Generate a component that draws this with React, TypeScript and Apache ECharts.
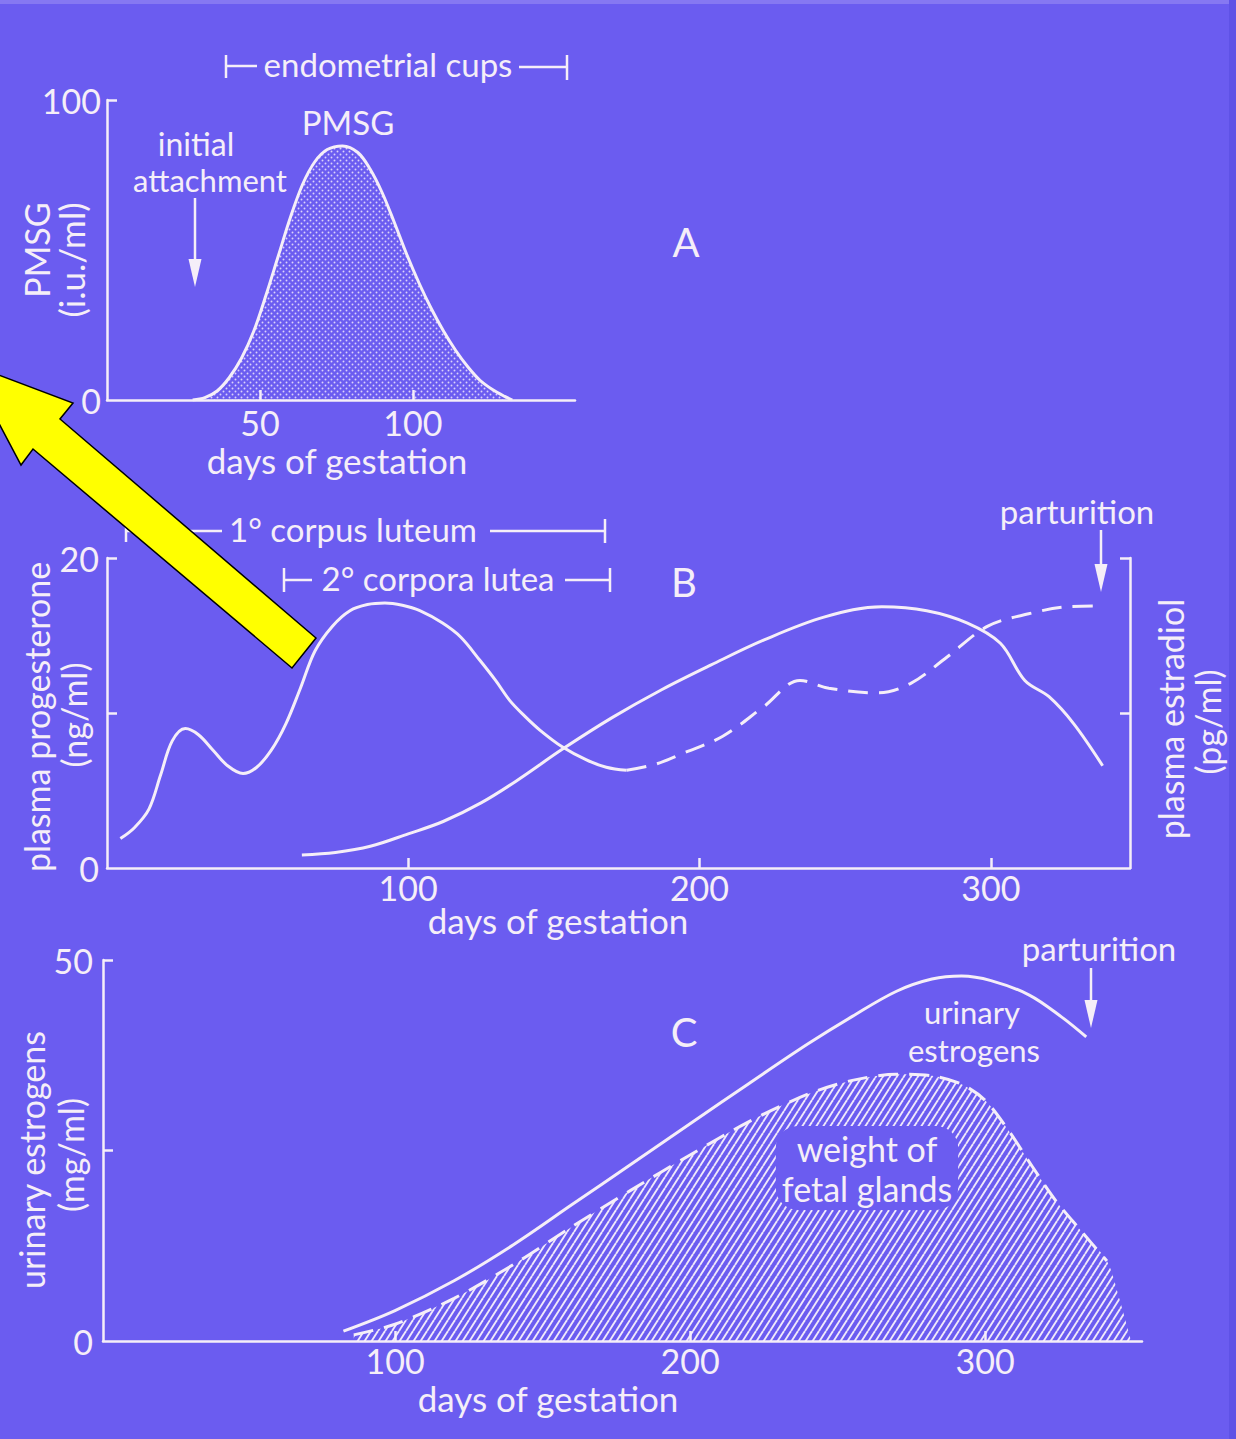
import React, { useEffect, useRef } from "react";
import * as echarts from "echarts";

const BG = "#6b5cf0";
const FG = "#f5eef8";
const FONT = "Lato, 'Open Sans', 'DejaVu Sans', sans-serif";

// ---------- Panel A : PMSG ----------
const pmsgDays = [28, 32, 36, 40, 44, 48, 52, 56, 60, 64, 68, 72, 77, 82, 86, 90, 94, 98, 102, 106, 110, 114, 118, 122, 126, 130, 132.5];
const pmsgValues = [0, 0.8, 3, 7.5, 14, 23, 35, 48, 61, 72, 79.5, 83.5, 84.7, 82.5, 77, 69, 59, 48.5, 39, 30.5, 23, 16.5, 11, 6.5, 3.5, 1.2, 0];
const aXTicks = [50, 100];
const aYTicks = [100];
const aYLabels = [0, 100];

// ---------- Panel B : progesterone / estradiol ----------
const progDays = [1.2, 6, 11, 15, 19, 23.5, 28, 33, 38, 43.3, 48, 53, 58, 63, 68, 74, 80, 86, 92, 98, 104, 111.8, 118, 124.6, 130, 134.9, 140, 145.2, 153, 161.2, 168, 175];
const progValues = [1.9, 2.6, 3.8, 6.0, 8.2, 9.0, 8.6, 7.6, 6.6, 6.1, 6.5, 7.6, 9.3, 11.6, 14.0, 15.6, 16.6, 17.0, 17.1, 16.95, 16.6, 15.8, 14.9, 13.4, 12.1, 10.8, 9.8, 8.9, 7.8, 6.97, 6.5, 6.3];
const progLateDays = [175, 185, 194.3, 208, 222, 234.5, 244.4, 261.2, 272.4, 284.9, 299, 313, 327, 338.4];
const progLateValues = [6.3, 6.7, 7.4, 8.5, 10.4, 12.1, 11.6, 11.3, 11.9, 13.6, 15.6, 16.4, 16.86, 16.9];
const estDays = [63.5, 75, 87, 100, 112, 125, 137, 153, 170, 187, 204, 222, 243, 262.6, 278, 292, 303.3, 311.7, 320, 328.5, 338.4];
const estValues = [0.84, 1.0, 1.4, 2.2, 3.0, 4.2, 5.6, 7.67, 9.7, 11.5, 13.1, 14.7, 16.2, 16.85, 16.6, 15.8, 14.5, 12.1, 11.05, 9.3, 6.6];
const bXTicks = [100, 200, 300];
const bYTicks = [10, 20];
const bYLabels = [0, 20];

// ---------- Panel C : urinary estrogens / fetal glands ----------
const urinDays = [82.5, 100, 120, 140, 160, 180, 200, 220, 240, 255, 270, 282, 292, 302, 315, 326, 334.3];
const urinValues = [1.3, 4.0, 7.9, 12.6, 17.9, 23.2, 28.5, 33.8, 39.0, 42.6, 45.9, 47.5, 47.9, 47.3, 45.4, 42.5, 39.9];
const fetalDays = [86, 100, 120, 140, 160, 180, 200, 220, 240, 255, 270, 282, 292, 300, 308, 316, 324, 332, 341.3];
const fetalValues = [0.8, 2.2, 5.6, 10.0, 15.0, 19.8, 24.4, 28.8, 32.4, 34.2, 35.0, 34.8, 33.7, 31.6, 27.6, 22.9, 18.4, 14.7, 10.5];
const fetalTailDays = [345.4, 349.5];
const fetalTailValues = [5.7, 0];
const cXTicks = [100, 200, 300];
const cYTicks = [25, 50];
const cYLabels = [0, 50];

const zip = (xs: number[], ys: number[]) => xs.map((x, i) => [x, ys[i]]);

function dotPattern() {
  const c = document.createElement("canvas");
  c.width = 6;
  c.height = 6;
  const g = c.getContext("2d")!;
  g.fillStyle = "rgba(248,240,252,0.8)";
  g.beginPath();
  g.arc(1.5, 1.5, 0.95, 0, Math.PI * 2);
  g.fill();
  g.beginPath();
  g.arc(4.5, 4.5, 0.95, 0, Math.PI * 2);
  g.fill();
  return { image: c, repeat: "repeat", imageWidth: 6, imageHeight: 6 } as any;
}

function hatchPattern() {
  const w = 7, h = 11;
  const c = document.createElement("canvas");
  c.width = w;
  c.height = h;
  const g = c.getContext("2d")!;
  g.strokeStyle = "rgba(248,240,252,0.95)";
  g.lineWidth = 1.9;
  const seg = (x1: number, y1: number, x2: number, y2: number) => {
    g.beginPath();
    g.moveTo(x1, y1);
    g.lineTo(x2, y2);
    g.stroke();
  };
  seg(0, h, w, 0);
  seg(-w, h, 0, 0);
  seg(w, h, 2 * w, 0);
  return { image: c, repeat: "repeat", imageWidth: w, imageHeight: h } as any;
}

const lineW = 2.5;
const txt = (text: string, x: number, y: number, size = 30, extra: any = {}) => ({
  type: "text",
  x,
  y,
  z: 50,
  rotation: extra.rotation || 0,
  style: {
    text,
    fill: FG,
    fontSize: size,
    fontFamily: FONT,
    align: "center",
    verticalAlign: "middle",
    textAlign: "center",
    textVerticalAlign: "middle",
    lineHeight: extra.lineHeight,
    backgroundColor: extra.backgroundColor,
    padding: extra.padding,
    borderRadius: extra.borderRadius,
  },
});
const seg = (x1: number, y1: number, x2: number, y2: number) => ({
  type: "line",
  z: 50,
  shape: { x1, y1, x2, y2 },
  style: { stroke: FG, lineWidth: lineW },
});
const downArrow = (x: number, y1: number, y2: number) => [
  seg(x, y1, x, y2 - 20),
  {
    type: "polygon",
    z: 50,
    shape: { points: [[x - 6.5, y2 - 28], [x + 6.5, y2 - 28], [x, y2]] },
    style: { fill: FG },
  },
];

export default function App() {
  const ref = useRef<HTMLDivElement>(null);
  useEffect(() => {
    if (!ref.current) return;
    const chart = echarts.init(ref.current, undefined, { renderer: "svg" });

    const axisLine = { show: true, onZero: false, lineStyle: { color: FG, width: lineW } };
    const tick = (vals: number[]) => ({
      show: true,
      inside: true,
      length: 10,
      customValues: vals,
      lineStyle: { color: FG, width: lineW },
    });
    const label = (vals: number[], margin: number) => ({
      show: true,
      customValues: vals,
      color: FG,
      fontSize: 34,
      fontFamily: FONT,
      margin,
    });
    const none = { show: false };

    const curve = (data: number[][], xi: number, yi: number, dashed = false, smooth = 0.35, extra: any = {}) => ({
      type: "line",
      xAxisIndex: xi,
      yAxisIndex: yi,
      data,
      smooth,
      symbol: "none",
      silent: true,
      lineStyle: { color: FG, width: 3, type: dashed ? [20, 11] : "solid", cap: "butt" },
      ...extra,
    });

    const option: any = {
      animation: false,
      backgroundColor: BG,
      grid: [
        { left: 107, top: 100, width: 468, height: 300 },
        { left: 107, top: 558, width: 1023, height: 310 },
        { left: 103, top: 960, width: 1039, height: 381 },
      ],
      xAxis: [
        { gridIndex: 0, type: "value", min: 0, max: 153, axisLine, axisTick: tick(aXTicks), axisLabel: label(aXTicks, 5), splitLine: none },
        { gridIndex: 1, type: "value", min: -3.4, max: 347.8, axisLine, axisTick: tick(bXTicks), axisLabel: label(bXTicks, 2), splitLine: none },
        { gridIndex: 2, type: "value", min: 1, max: 353.2, axisLine, axisTick: tick(cXTicks), axisLabel: label(cXTicks, 2), splitLine: none },
      ],
      yAxis: [
        { gridIndex: 0, type: "value", min: 0, max: 100, axisLine, axisTick: tick(aYTicks), axisLabel: label(aYLabels, 6), splitLine: none },
        { gridIndex: 1, type: "value", min: 0, max: 20, axisLine, axisTick: tick(bYTicks), axisLabel: label(bYLabels, 8), splitLine: none },
        { gridIndex: 1, type: "value", position: "right", min: 0, max: 20, axisLine, axisTick: tick(bYTicks), axisLabel: none, splitLine: none },
        { gridIndex: 2, type: "value", min: 0, max: 50, axisLine, axisTick: tick(cYTicks), axisLabel: label(cYLabels, 10), splitLine: none },
      ],
      series: [
        curve(zip(pmsgDays, pmsgValues), 0, 0, false, 0.35, {
          name: "PMSG",
          areaStyle: { color: dotPattern(), opacity: 1 },
        }),
        curve(zip(progDays, progValues), 1, 1, false, 0.35, { name: "plasma progesterone" }),
        curve(zip(progLateDays, progLateValues), 1, 1, true, 0.35, { name: "plasma progesterone (late)" }),
        curve(zip(estDays, estValues), 1, 2, false, 0.35, { name: "plasma estradiol" }),
        {
          type: "line",
          name: "weight of fetal glands (area)",
          xAxisIndex: 2,
          yAxisIndex: 3,
          data: zip(fetalDays.concat(fetalTailDays), fetalValues.concat(fetalTailValues)),
          smooth: 0.3,
          symbol: "none",
          silent: true,
          lineStyle: { width: 0, opacity: 0 },
          areaStyle: { color: hatchPattern(), opacity: 1 },
          z: 1,
        },
        curve(zip(fetalDays, fetalValues), 2, 3, true, 0.3, { name: "weight of fetal glands" }),
        curve(zip(urinDays, urinValues), 2, 3, false, 0.35, { name: "urinary estrogens" }),
      ],
      graphic: [
        // edge artefacts of the slide
        { type: "rect", z: 0, shape: { x: 0, y: 0, width: 1236, height: 4 }, style: { fill: "#8678f2" } },
        { type: "rect", z: 0, shape: { x: 1229, y: 0, width: 7, height: 1439 }, style: { fill: "#5f52e6" } },

        // ---- Panel A ----
        seg(226, 55, 226, 78),
        seg(226, 66, 257, 66),
        txt("endometrial cups", 388, 64, 33),
        seg(519, 67, 566, 67),
        seg(567, 55, 567, 80),
        txt("PMSG", 348, 122, 33),
        txt("initial", 196, 143, 32),
        txt("attachment", 210, 180, 31),
        ...downArrow(195, 198, 287),
        txt("A", 686, 242, 40),
        txt("PMSG", 36, 250, 34, { rotation: Math.PI / 2 }),
        txt("(i.u./ml)", 71, 260, 35, { rotation: Math.PI / 2 }),
        txt("days of gestation", 337, 460, 35),

        // ---- Panel B ----
        seg(126, 520, 126, 542),
        seg(126, 531, 222, 531),
        txt("1° corpus luteum", 353, 529, 33),
        seg(490, 531, 604, 531),
        seg(605, 519, 605, 543),
        seg(284, 568, 284, 592),
        seg(284, 580, 312, 580),
        txt("2° corpora lutea", 438, 578, 33),
        seg(565, 580, 609, 580),
        seg(610, 568, 610, 592),
        txt("B", 684, 582, 40),
        txt("parturition", 1077, 511, 33),
        ...downArrow(1101, 530, 592),
        txt("plasma progesterone", 36, 717, 34, { rotation: Math.PI / 2 }),
        txt("(ng/ml)", 73, 715, 34, { rotation: Math.PI / 2 }),
        txt("plasma estradiol", 1170, 719, 34, { rotation: Math.PI / 2 }),
        txt("(pg/ml)", 1207, 722, 34, { rotation: Math.PI / 2 }),
        txt("days of gestation", 558, 920, 35),

        // ---- Panel C ----
        txt("C", 684, 1032, 40),
        txt("parturition", 1099, 948, 33),
        ...downArrow(1091, 968, 1028),
        txt("urinary", 972, 1012, 31),
        txt("estrogens", 974, 1050, 31),
        txt("weight of\nfetal glands", 867, 1168, 34, {
          lineHeight: 40,
          backgroundColor: BG,
          padding: [2, 6, 2, 6],
          borderRadius: 22,
        }),
        txt("urinary estrogens", 31, 1160, 34, { rotation: Math.PI / 2 }),
        txt("(mg/ml)", 70, 1155, 34, { rotation: Math.PI / 2 }),
        txt("days of gestation", 548, 1398, 35),

        // ---- yellow pointer arrow ----
        {
          type: "polygon",
          z: 100,
          shape: {
            points: [
              [-33, 363],
              [73, 403],
              [60, 419],
              [316, 638],
              [292, 668],
              [33, 449],
              [21, 465],
            ],
          },
          style: { fill: "#ffff00", stroke: "#000000", lineWidth: 1.5 },
        },
      ],
    };

    chart.setOption(option);
    return () => chart.dispose();
  }, []);

  return (
    <div
      ref={ref}
      style={{ position: "absolute", left: 0, top: 0, width: 1236, height: 1439 }}
    />
  );
}
